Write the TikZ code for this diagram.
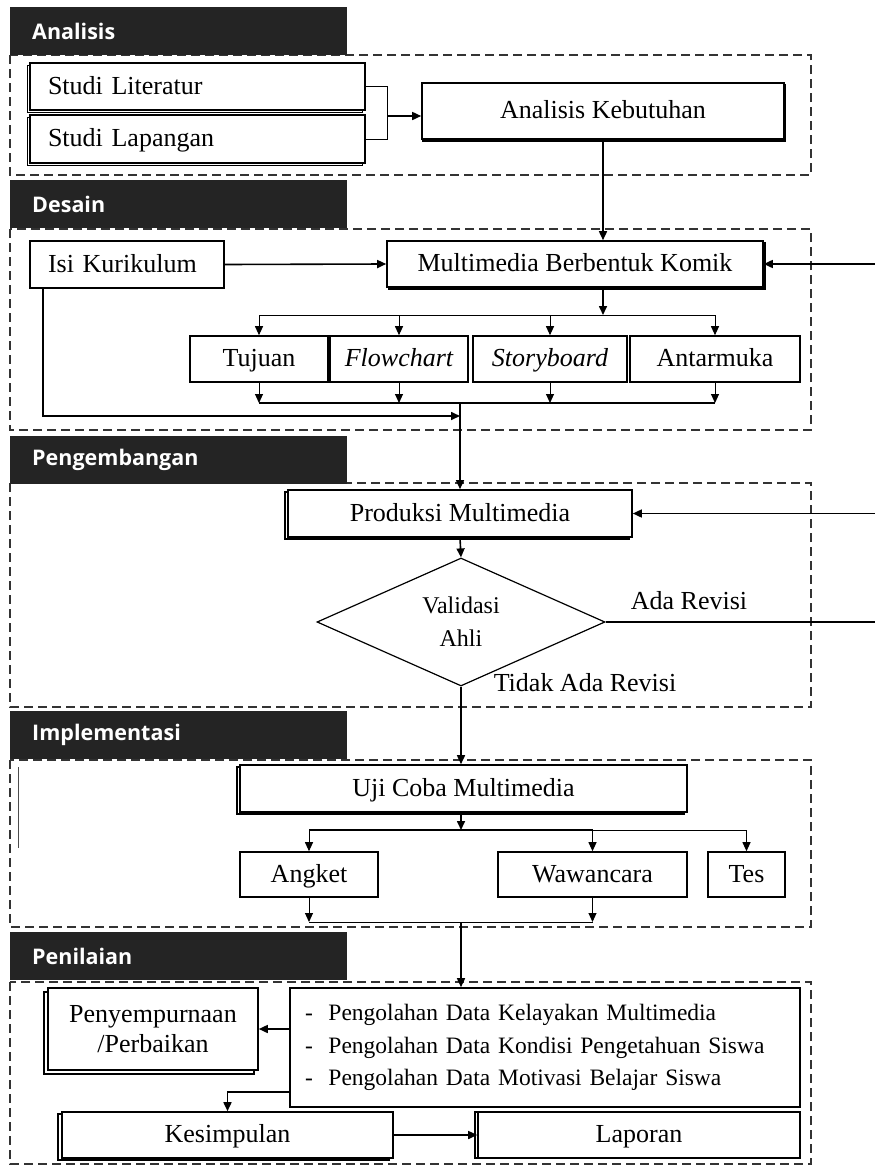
\documentclass[tikz,border=0pt]{standalone}
\usepackage{fontspec}
\setmainfont{Liberation Serif}
\newfontfamily\headfont{Open Sans}
\usetikzlibrary{arrows.meta,shadows,shapes.geometric}

\tikzset{
  headbar/.style={fill=black!86, text=white, anchor=north west, inner xsep=22pt, inner ysep=0pt,
    text width=293pt, minimum height=48pt, align=left, font=\headfont\bfseries\fontsize{21.5}{24}\selectfont},
  frame/.style={draw=black!80, dashed, dash pattern=on 9pt off 5pt, line width=1.6pt},
  box/.style={draw, line width=1.6pt, fill=white, inner sep=0pt,
    font=\fontsize{26}{30}\selectfont},
  tbox/.style={box, text height=20pt, text depth=5pt},
  lbox/.style={tbox, inner xsep=18pt, text width=#1},
  arr/.style={line width=1.6pt, -{Triangle[length=9pt,width=8pt]}},
  thinarr/.style={line width=1pt, -{Triangle[length=9pt,width=8pt]}},
  lbl/.style={inner sep=0pt, font=\fontsize{26}{30}\selectfont}
}

\begin{document}
\begin{tikzpicture}[x=1pt,y=-1pt]
  \useasboundingbox (0,0) rectangle (875,1167);
  \coordinate (edgeR) at (875,0);

  % Analisis
  \draw[frame] (10,55) rectangle (811,175);
  \node[headbar] (hAna) at (10,7) {Analisis};
  \node[lbox=299pt, minimum height=47pt, copy shadow={shadow xshift=-2.5pt, shadow yshift=-2.5pt}] (lit) at (197.5,86.5) {Studi Literatur};
  \node[lbox=299pt, minimum height=48pt, copy shadow={shadow xshift=-2.5pt, shadow yshift=-2.5pt}] (lap) at (197.5,139) {Studi Lapangan};
  \node[tbox, minimum width=362pt, minimum height=56pt, copy shadow={shadow xshift=1pt, shadow yshift=-2pt}] (keb) at (603,111) {Analisis Kebutuhan};
  \draw[line width=1pt] (lit.east) -- ++(22,0) coordinate (brkA) -- (brkA |- lap.east) -- (lap.east);
  \draw[arr] (brkA |- 0,116) -- (keb.west |- 0,116);

  % Desain
  \draw[frame] (10,229) rectangle (811,430);
  \node[headbar] (hDes) at (10,180) {Desain};
  \node[lbox=158pt, minimum height=47pt] (isi) at (127,264.5) {Isi Kurikulum};
  \node[tbox, minimum width=376pt, minimum height=46pt, copy shadow={shadow xshift=2pt, shadow yshift=-2pt}] (mmk) at (575,264) {Multimedia Berbentuk Komik};
  \node[tbox, minimum width=138pt, minimum height=46pt] (tuj) at (259,359) {Tujuan};
  \node[tbox, minimum width=138pt, minimum height=46pt] (flo) at (399,359) {\itshape Flowchart};
  \node[tbox, minimum width=154pt, minimum height=46pt] (sto) at (550,359) {\itshape Storyboard};
  \node[tbox, minimum width=170pt, minimum height=46pt] (ant) at (715,359) {Antarmuka};
  \coordinate (brTop) at (0,315);
  \coordinate (brBot) at (0,403);
  \draw[arr] (keb.south) -- (keb.south |- mmk.north);
  \draw[arr] (isi.east) -- (mmk.west);
  \draw[arr] (mmk.east -| edgeR) -- (mmk.east);
  \draw[arr] (keb.south |- mmk.south) -- (keb.south |- brTop);
  \draw[line width=1pt] (tuj.north |- brTop) -- (ant.north |- brTop);
  \draw[line width=1.3pt] (tuj.south |- brBot) -- (ant.south |- brBot);
  \foreach \n in {tuj,flo,sto,ant} {
    \draw[thinarr] (\n.north |- brTop) -- (\n.north);
    \draw[thinarr] (\n.south) -- (\n.south |- brBot);
  }

  % Pengembangan
  \draw[frame] (10,483) rectangle (811,707);
  \node[headbar] (hPeng) at (10,436) {Pengembangan};
  \node[tbox, minimum width=344pt, minimum height=47pt, copy shadow={shadow xshift=-3pt, shadow yshift=-2pt}] (prod) at (460,513.5) {Produksi Multimedia};
  \node[draw, line width=1.2pt, fill=white, diamond, inner sep=0pt, minimum width=288pt, minimum height=128pt,
    align=center, font=\fontsize{24}{33}\selectfont] (val) at (461,622) {Validasi\\Ahli};
  \draw[arr] (prod.north |- brBot) -- (prod.north);
  \draw[arr] ([xshift=14pt]isi.south west) |- ([yshift=-13pt]prod.north |- brBot);
  \draw[arr] (prod.east -| edgeR) -- (prod.east);
  \draw[arr] (prod.south) -- (val.north);
  \draw[line width=1.6pt] (val.east) -- (val.east -| edgeR);
  \node[lbl] (ada) at (689,601) {Ada Revisi};
  \node[lbl] (tidak) at (585,683) {Tidak Ada Revisi};

  % Implementasi
  \draw[frame] (10,760) rectangle (811,927);
  \node[headbar] (hImp) at (10,711) {Implementasi};
  \draw[black!70, line width=1pt] (18,767) -- (18,848);
  \node[tbox, minimum width=447pt, minimum height=47pt, copy shadow={shadow xshift=-3pt, shadow yshift=-2pt}] (uji) at (463.5,788.5) {Uji Coba Multimedia};
  \node[tbox, minimum width=138pt, minimum height=45pt] (ang) at (309,874.5) {Angket};
  \node[tbox, minimum width=189pt, minimum height=45pt] (wwc) at (592.5,874.5) {Wawancara};
  \node[tbox, minimum width=77pt, minimum height=45pt] (tes) at (746.5,874.5) {Tes};
  \coordinate (brImp) at (0,830);
  \coordinate (brImpB) at (0,922);
  \draw[arr] (val.south) -- (val.south |- uji.north);
  \draw[arr] (val.south |- uji.south) -- (val.south |- brImp);
  \draw[line width=1.6pt] (ang.north |- brImp) -- (wwc.north |- brImp);
  \draw[line width=1pt] (wwc.north |- brImp) -- (tes.north |- brImp);
  \foreach \n in {ang,wwc,tes}
    \draw[thinarr] (\n.north |- brImp) -- (\n.north);
  \foreach \n in {ang,wwc}
    \draw[thinarr] (\n.south) -- (\n.south |- brImpB);
  \draw[line width=1pt] (ang.south |- brImpB) -- (wwc.south |- brImpB);

  % Penilaian
  \draw[frame] (10,982) rectangle (811,1164);
  \node[headbar] (hPen) at (10,932) {Penilaian};
  \node[box, align=left, inner xsep=15pt, text width=480pt, minimum height=119pt,
    font=\fontsize{23.5}{32.5}\selectfont] (olah) at (545,1047.5)
    {-\ \ Pengolahan Data Kelayakan Multimedia\\-\ \ Pengolahan Data Kondisi Pengetahuan Siswa\\-\ \ Pengolahan Data Motivasi Belajar Siswa};
  \node[box, align=center, minimum width=210pt, minimum height=82pt, copy shadow={shadow xshift=-4pt, shadow yshift=-4pt}] (per) at (153,1029) {Penyempurnaan\\/Perbaikan};
  \node[tbox, minimum width=331pt, minimum height=46pt, copy shadow={shadow xshift=-4pt, shadow yshift=-2pt}] (kes) at (227.5,1135) {Kesimpulan};
  \node[tbox, minimum width=322pt, minimum height=46pt, copy shadow={shadow xshift=-3pt, shadow yshift=0pt}] (lpr) at (639,1135) {Laporan};
  \draw[arr] (val.south |- brImpB) -- (val.south |- olah.north);
  \draw[arr] (olah.west |- per.east) -- (per.east);
  \draw[arr] ([yshift=-44.5pt]olah.west) -| (kes.north);
  \draw[arr] (kes.east) -- (lpr.west);
\end{tikzpicture}
\end{document}
